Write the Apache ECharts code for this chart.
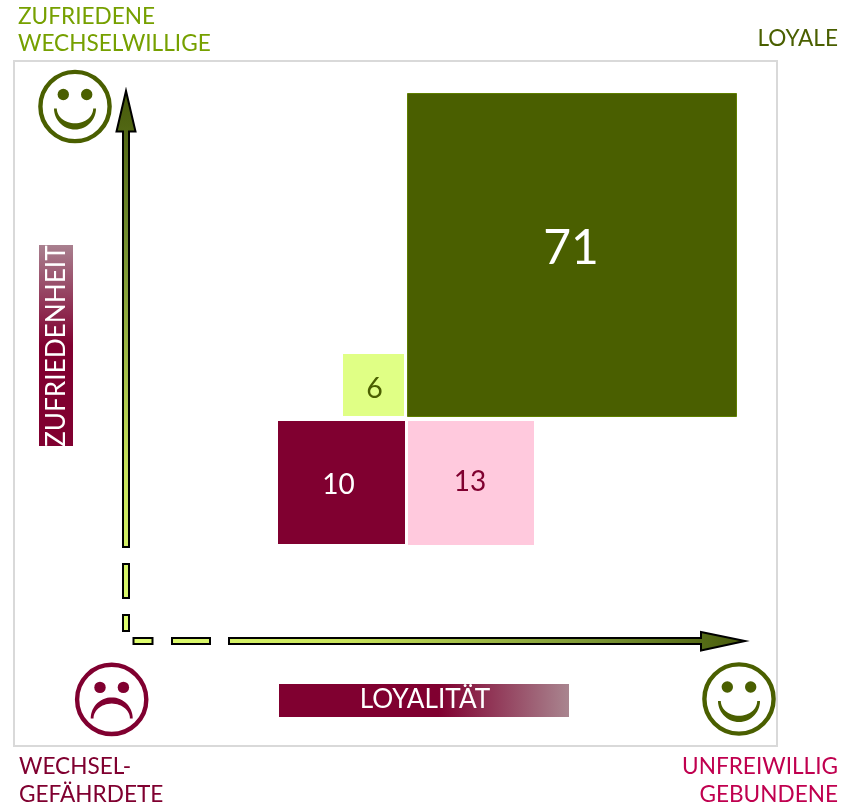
<!DOCTYPE html>
<html>
<head>
<meta charset="utf-8">
<script src="https://cdn.jsdelivr.net/npm/echarts@6/dist/echarts.min.js"></script>
<style>html,body{margin:0;padding:0;background:#fff}#c{width:856px;height:805px}</style>
</head>
<body>
<div id="c"></div>
<script>
// Values and the extent of each square on the two (unlabelled) axes
const segments = ['Loyale', 'Zufriedene Wechselwillige', 'Wechselgefährdete', 'Unfreiwillig Gebundene'];
const values = [71, 6, 10, 13];
const loyaltyFrom = [0, -64, -129, 1];
const loyaltyTo = [330, -3, -2, 127];
const satisfactionFrom = [1, 2, -126, -127];
const satisfactionTo = [325, 64, -3, -3];
const axisTitleX = 'LOYALITÄT';
const axisTitleY = 'ZUFRIEDENHEIT';

const FONT = 'Lato, "Open Sans", sans-serif';
const OLIVE = '#4a5f00', WINE = '#800030';
const fills = [OLIVE, '#e0ff85', WINE, '#ffc9dd'];
const inks = ['#ffffff', OLIVE, '#ffffff', WINE];
const edges = ['#5f7f00', null, null, null];
const labelSizes = [48, 28.5, 28, 28];
const labelShift = [[-1, -6], [1, 4], [-3, 2], [-1, -1]];

function mouth(cx, cy, dir) {
  const pts = [];
  for (let i = 0; i <= 30; i++) {
    const a = Math.PI * i / 30;
    pts.push([cx + 21 * Math.cos(a), cy + dir * 21 * Math.sin(a)]);
  }
  for (let i = 30; i >= 0; i--) {
    const a = Math.PI * i / 30;
    pts.push([cx + 18.2 * Math.cos(a), cy + dir * 14.8 * Math.sin(a)]);
  }
  return pts;
}
function face(cx, cy, color, happy) {
  return [
    {type: 'circle', z: 5, shape: {cx, cy, r: 34.6}, style: {fill: 'none', stroke: color, lineWidth: 4.4}},
    {type: 'circle', z: 5, shape: {cx: cx - 11.7, cy: cy - 12, r: 5.7}, style: {fill: color}},
    {type: 'circle', z: 5, shape: {cx: cx + 11.7, cy: cy - 12, r: 5.7}, style: {fill: color}},
    {type: 'polygon', z: 5, shape: {points: happy ? mouth(cx, cy + 2, 1) : mouth(cx, cy + 19, -1)}, style: {fill: color}}
  ];
}
function label(text, x, y, color, align) {
  return {type: 'text', z: 6, x, y, style: {text, fill: color, font: '22.6px ' + FONT, textAlign: align || 'left', textVerticalAlign: 'middle'}};
}
function gradient(x, y, x2, y2, stops) {
  return {type: 'linear', x, y, x2, y2, global: true, colorStops: stops};
}
const vGrad = gradient(0, 92, 0, 632, [{offset: 0, color: '#46590a'}, {offset: 0.25, color: '#6f8a2c'}, {offset: 0.7, color: '#c8e35c'}, {offset: 1, color: '#e0ff70'}]);
const hGrad = gradient(132, 0, 748, 0, [{offset: 0, color: '#e0ff70'}, {offset: 0.35, color: '#c8e35c'}, {offset: 0.75, color: '#7c9735'}, {offset: 1, color: '#46590a'}]);
function bar(points, fill) {
  return {type: 'polygon', z: 4, shape: {points}, style: {fill, stroke: '#000', lineWidth: 2, lineJoin: 'miter'}};
}
function vDash(y0, y1) { return bar([[123, y0], [129, y0], [129, y1], [123, y1]], vGrad); }
function hDash(x0, x1) { return bar([[x0, 638], [x1, 638], [x1, 644], [x0, 644]], hGrad); }

const overlays = [
  {type: 'rect', z: 1, shape: {x: 14, y: 61, width: 763, height: 685}, style: {fill: 'none', stroke: '#d9d9d9', lineWidth: 2}},
  vDash(615, 631), vDash(564, 598),
  bar([[123, 547], [123, 131.5], [116.5, 131.5], [126, 91], [135.5, 131.5], [129, 131.5], [129, 547]], vGrad),
  hDash(133.5, 152.5), hDash(172, 210),
  bar([[229, 638], [701, 638], [701, 632], [745, 641], [701, 650.5], [701, 644], [229, 644]], hGrad),
  ...face(75, 106.5, OLIVE, true),
  ...face(111.7, 699.4, WINE, false),
  ...face(739, 699, OLIVE, true),
  label('ZUFRIEDENE', 18, 17, '#76a000'),
  label('WECHSELWILLIGE', 18, 44, '#76a000'),
  label('LOYALE', 838, 39, OLIVE, 'right'),
  label('WECHSEL-', 19, 767, WINE),
  label('GEFÄHRDETE', 19, 795, WINE),
  label('UNFREIWILLIG', 838, 767, '#c0004f', 'right'),
  label('GEBUNDENE', 838, 795, '#c0004f', 'right'),
  {type: 'rect', z: 3, shape: {x: 39, y: 245, width: 34, height: 201},
   style: {fill: gradient(0, 245, 0, 446, [{offset: 0, color: '#a9808f'}, {offset: 0.5, color: WINE}, {offset: 1, color: WINE}])}},
  {type: 'text', z: 6, x: 57, y: 447, rotation: Math.PI / 2,
   style: {text: axisTitleY, fill: '#fff', font: '26.2px ' + FONT, textAlign: 'left', textVerticalAlign: 'middle'}},
  {type: 'rect', z: 3, shape: {x: 279, y: 684, width: 290, height: 33},
   style: {fill: gradient(279, 0, 569, 0, [{offset: 0, color: WINE}, {offset: 0.55, color: WINE}, {offset: 1, color: '#a9858f'}])}},
  {type: 'text', z: 6, x: 425, y: 700,
   style: {text: axisTitleX, fill: '#fff', font: '26.2px ' + FONT, textAlign: 'center', textVerticalAlign: 'middle'}}
];

const chart = echarts.init(document.getElementById('c'));
chart.setOption({
  animation: false,
  backgroundColor: '#ffffff',
  grid: {left: 14, right: 79, top: 61, bottom: 59},
  xAxis: {type: 'value', min: -393, max: 370, show: false},
  yAxis: {type: 'value', min: -328, max: 357, show: false},
  graphic: {elements: overlays},
  series: [{
    type: 'custom',
    name: 'Segmente',
    coordinateSystem: 'cartesian2d',
    clip: false,
    data: segments.map((name, i) => ({name, value: [loyaltyFrom[i], loyaltyTo[i], satisfactionFrom[i], satisfactionTo[i], values[i]]})),
    encode: {x: [0, 1], y: [2, 3]},
    renderItem(params, api) {
      const i = params.dataIndex;
      const a = api.coord([api.value(0), api.value(3)]);
      const b = api.coord([api.value(1), api.value(2)]);
      const shift = labelShift[i];
      const inset = edges[i] ? 0.5 : 0;
      return {
        type: 'group',
        children: [
          {type: 'rect', shape: {x: a[0] + inset, y: a[1] + inset, width: b[0] - a[0] - 2 * inset, height: b[1] - a[1] - 2 * inset},
           style: {fill: fills[i], stroke: edges[i], lineWidth: edges[i] ? 1 : 0}},
          {type: 'text', x: (a[0] + b[0]) / 2 + shift[0], y: (a[1] + b[1]) / 2 + shift[1],
           style: {text: String(api.value(4)), fill: inks[i], font: labelSizes[i] + 'px ' + FONT, textAlign: 'center', textVerticalAlign: 'middle'}}
        ]
      };
    }
  }]
});
</script>
</body>
</html>
